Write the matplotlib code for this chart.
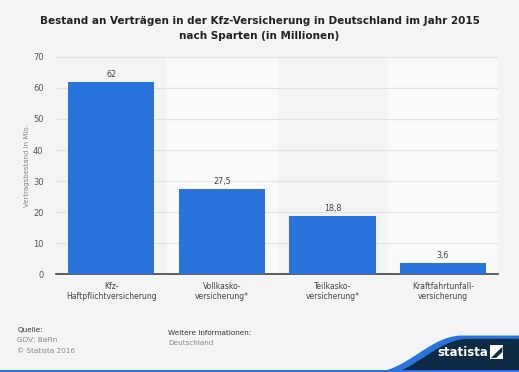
import numpy as np
import matplotlib.pyplot as plt
from matplotlib.patches import Polygon, Rectangle

# Daten
kategorien = ['Kfz-\nHaftpflichtversicherung', 'Vollkasko-\nversicherung*',
              'Teilkasko-\nversicherung*', 'Kraftfahrtunfall-\nversicherung']
werte = [62, 27.5, 18.8, 3.6]
labels = ['62', '27,5', '18,8', '3,6']

bg = '#f4f4f4'
blau = '#2874dc'
navy = '#0f2a44'

fig = plt.figure(figsize=(5.19, 3.72), dpi=100)
fig.patch.set_facecolor(bg)
ax = fig.add_axes([0.108, 0.263, 0.852, 0.584])
ax.set_facecolor(bg)

x = np.arange(len(werte))
# abwechselnde Hintergrundstreifen
for i in x:
    if i % 2 == 1:
        ax.axvspan(i - 0.5, i + 0.5, color='#fafafa', zorder=0)

ax.bar(x, werte, width=0.78, color=blau, zorder=3)
for xi, w, l in zip(x, werte, labels):
    ax.text(xi, w + 1.0, l, ha='center', va='bottom', fontsize=5.8, color='#444444')

ax.set_xlim(-0.5, len(werte) - 0.5)
ax.set_ylim(0, 70)
ax.set_yticks(range(0, 71, 10))
ax.yaxis.grid(True, color='#e2e2e2', linewidth=0.8, zorder=1)
ax.set_axisbelow(True)
ax.set_xticks(x)
ax.set_xticklabels(kategorien, fontsize=5.5, color='#444444', linespacing=1.1)
ax.tick_params(axis='y', labelsize=6, labelcolor='#555555', length=0, pad=9)
ax.tick_params(axis='x', length=0, pad=6)
for s in ['top', 'right', 'left']:
    ax.spines[s].set_visible(False)
ax.spines['bottom'].set_color('#444444')
ax.spines['bottom'].set_linewidth(1.2)
ax.set_ylabel('Vertragsbestand in Mio.', fontsize=5, color='#888888')
ax.yaxis.set_label_coords(-0.058, 0.5)

fig.text(0.5, 0.923, 'Bestand an Verträgen in der Kfz-Versicherung in Deutschland im Jahr 2015\nnach Sparten (in Millionen)',
         ha='center', va='center', fontsize=7.45, fontweight='bold', color='#222222', linespacing=1.7)

# Fußzeile
fig.text(0.033, 0.108, 'Quelle:', fontsize=5.2, color='#333333')
fig.text(0.033, 0.080, 'GDV; BaFin', fontsize=5.2, color='#888888')
fig.text(0.033, 0.052, '© Statista 2016', fontsize=5.2, color='#888888')
fig.text(0.324, 0.100, 'Weitere Informationen:', fontsize=5.2, color='#333333')
fig.text(0.324, 0.072, 'Deutschland', fontsize=5.2, color='#888888')

# Statista-Logo mit Welle
t = np.linspace(0, 1, 50)
xs = 0.72 + 0.17 * t
ys = 0.0 + 0.098 * (0.5 - 0.5 * np.cos(np.pi * t))
wave = list(zip(xs, ys)) + [(1.0, 0.098), (1.0, 0.0)]
fig.patches.append(Polygon(wave, closed=True, transform=fig.transFigure,
                           facecolor=blau, edgecolor='none'))
wave2 = list(zip(xs + 0.012, ys - 0.009)) + [(1.0, 0.089), (1.0, 0.0)]
fig.patches.append(Polygon(wave2, closed=True, transform=fig.transFigure,
                           facecolor=navy, edgecolor='none'))
fig.patches.append(Rectangle((0, 0), 1, 0.006, transform=fig.transFigure,
                             facecolor=blau, edgecolor='none'))
fig.text(0.842, 0.052, 'statista', fontsize=8.5, fontweight='bold', color='white',
         ha='left', va='center')
fig.patches.append(Rectangle((0.944, 0.036), 0.026, 0.036, transform=fig.transFigure,
                             facecolor='white', edgecolor='none'))
fig.patches.append(Polygon([(0.946, 0.038), (0.968, 0.068), (0.968, 0.054), (0.956, 0.038)],
                           closed=True, transform=fig.transFigure,
                           facecolor=navy, edgecolor='none'))

fig.savefig('out.png', dpi=100, facecolor=bg)
